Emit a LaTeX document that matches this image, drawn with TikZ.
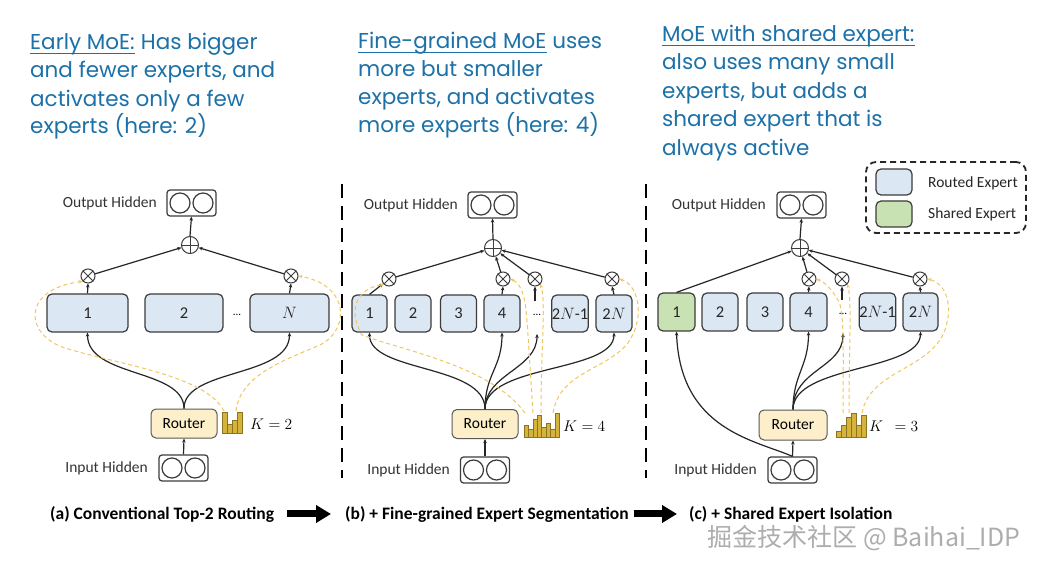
\RequirePackage{fix-cm}
\documentclass[tikz,border=0pt]{standalone}
\usepackage{fontspec}
\setmainfont{Carlito}
\newfontfamily\handfont{Poppins}
\newfontfamily\cjkfont{Noto Sans CJK SC}
\usetikzlibrary{arrows.meta}
\definecolor{hand}{HTML}{1C71A8}
\definecolor{expfill}{HTML}{DCE7F4}
\definecolor{shfill}{HTML}{C9E2B3}
\definecolor{rtfill}{HTML}{FCEFC9}
\definecolor{edge}{HTML}{3C3C3C}
\definecolor{ydash}{HTML}{F0C75E}
\definecolor{barf}{HTML}{D6B43C}
\definecolor{bard}{HTML}{8A7420}
\newcommand\hidden[3]{\node[hid] (#1) at (#2,#3) {};
  \draw[line width=1.2pt, draw=edge] (#1.center) ++(-11.5,0) circle[radius=10] (#1.center) ++(11.5,0) circle[radius=10];}
\newcommand\otim[3]{\node[xcirc] (#1) at (#2,#3) {};
  \draw[line width=0.9pt, draw=edge] (#1.45)--(#1.225) (#1.135)--(#1.315);}
\newcommand\oplu[3]{\node[pcirc] (#1) at (#2,#3) {};
  \draw[line width=0.9pt, draw=edge] (#1.north)--(#1.south) (#1.west)--(#1.east);}
\newcommand\barchart[4]{%
  \foreach \h [count=\i] in {#4} {\draw[fill=barf, draw=bard, line width=0.5pt] ({#1+(\i-1)*#3},#2) rectangle ++(#3,{-\h});}}
\newcommand\ulin[1]{\draw[hand, line width=1.6pt] ([yshift=-3.5pt]#1.base west) -- ([yshift=-3.5pt]#1.base east);}
\tikzset{
  exp/.style={draw=edge, line width=1.2pt, fill=expfill, rounded corners=5pt, minimum height=38pt, inner sep=0pt, text=black!85, font=\fontsize{16.5}{19}\selectfont},
  shexp/.style={exp, fill=shfill},
  router/.style={draw=gray!70!black, line width=1pt, fill=rtfill, rounded corners=5pt, minimum width=66pt, minimum height=29pt, inner sep=0pt, font=\fontsize{15.5}{18}\selectfont},
  hid/.style={draw=edge, line width=1.2pt, rounded corners=3pt, minimum width=49pt, minimum height=26pt, inner sep=0pt},
  lbl/.style={font=\fontsize{15.5}{18}\selectfont, text=black!80, anchor=base east, inner sep=0pt},
  dots/.style={font=\fontsize{11}{12}\selectfont, inner sep=0pt},
  kt/.style={font=\fontsize{15.5}{18}\selectfont, anchor=west, inner sep=0pt},
  xcirc/.style={circle, draw=edge, line width=1pt, minimum size=14pt, inner sep=0pt},
  pcirc/.style={circle, draw=edge, line width=1pt, minimum size=17pt, inner sep=0pt},
  arr/.style={line width=1.2pt, draw=black!85, -{Stealth[length=4pt,width=3.5pt]}},
  ydsh/.style={draw=ydash, line width=1pt, dash pattern=on 4pt off 3pt, -{Stealth[length=4pt,width=3.5pt]}},
  sep/.style={line width=2.2pt, dash pattern=on 14pt off 8pt},
  handtxt/.style={font=\handfont\fontsize{21.5}{26}\selectfont, text=hand, anchor=base west, inner sep=0pt},
  captxt/.style={font=\bfseries\fontsize{17.5}{20}\selectfont, anchor=base west, inner sep=0pt},
  bigarr/.style={line width=7pt, -{Triangle[length=15pt,width=17pt]}},
  legbox/.style={draw=black!85, line width=1.8pt, dash pattern=on 6pt off 4pt, rounded corners=10pt, minimum width=160pt, minimum height=71pt},
  legtxt/.style={font=\fontsize{15.5}{18}\selectfont, text=black!85, anchor=west, inner sep=0pt},
  wm/.style={font=\cjkfont\fontsize{25}{28}\selectfont, text=black!32, inner sep=0pt}
}
\begin{document}
\begin{tikzpicture}[x=1pt,y=-1pt]
\useasboundingbox (0,0) rectangle (1039,569);
\fill[white] (0,0) rectangle (1039,569);

% ---------- texts ----------
\node[handtxt] (ta1u) at (30,50) {Early MoE:};
\node[handtxt] (ta1) at (ta1u.base east) {\ Has bigger};
\ulin{ta1u}
\node[handtxt] (ta2) at (30,78) {and fewer experts, and};
\node[handtxt] (ta3) at (30,107) {activates only a few};
\node[handtxt] (ta4) at (30,134) {experts (here: 2)};

\node[handtxt] (tb1u) at (358,49) {Fine-grained MoE};
\node[handtxt] (tb1) at (tb1u.base east) {\ uses};
\ulin{tb1u}
\node[handtxt] (tb2) at (358,77) {more but smaller};
\node[handtxt] (tb3) at (358,105) {experts, and activates};
\node[handtxt] (tb4) at (358,133) {more experts (here: 4)};

\node[handtxt] (tc1) at (662,42) {MoE with shared expert:};
\ulin{tc1}
\node[handtxt] (tc2) at (662,70) {also uses many small};
\node[handtxt] (tc3) at (662,99) {experts, but adds a};
\node[handtxt] (tc4) at (662,127) {shared expert that is};
\node[handtxt] (tc5) at (662,156) {always active};

% ---------- separators ----------
\coordinate (s1t) at (342,184); \coordinate (s1b) at (342,478);
\coordinate (s2t) at (646,184); \coordinate (s2b) at (646,478);
\draw[sep] (s1t) -- (s1b);
\draw[sep] (s2t) -- (s2b);

% ---------- panel a ----------
\node[exp, minimum width=81pt] (ea1) at (87.5,313) {1};
\node[exp, minimum width=78pt] (ea2) at (184,313) {2};
\node[dots] (da) at (237,315) {...};
\node[exp, minimum width=79pt] (ean) at (289.5,313) {$N$};
\node[router] (ra) at (184,423.5) {Router};
\hidden{ia}{183.5}{468}
\node[lbl] (ila) at (148,472) {Input Hidden};
\hidden{oa}{191.5}{203}
\node[lbl] (ola) at (157,208) {Output Hidden};
\oplu{pa}{190}{245}
\otim{xa1}{88}{276}
\otim{xa2}{291}{276}
\barchart{222}{433}{5}{21,9,13,21}
\node[kt] (ka) at (250,424) {$K=2$};

\draw[arr] (ia.north) -- (ra.south);
\draw[arr] (ra.north) .. controls +(0,-40) and +(0,45) .. (ea1.south);
\draw[arr] (ra.north) .. controls +(0,-40) and +(0,45) .. (ean.south);
\draw[arr] (ea1.north) -- (xa1.south);
\draw[arr] (ean.north) -- (xa2.south);
\draw[arr] (xa1) -- (pa);
\draw[arr] (xa2) -- (pa);
\draw[arr] (pa.north) -- (oa.south);
\coordinate (ya1) at (224,411); \coordinate (ya2) at (236,411);
\draw[ydsh] (ya1) .. controls (205,375) and (120,365) .. (65,348) .. controls (25,335) and (20,290) .. (xa1.south west);
\draw[ydsh] (ya2) .. controls (240,375) and (285,360) .. (320,345) .. controls (350,330) and (350,285) .. (xa2.east);

% ---------- panel b ----------
\node[exp, minimum width=35pt, minimum height=37pt] (eb1) at (369.5,313.5) {1};
\node[exp, minimum width=36pt, minimum height=37pt] (eb2) at (413,313.5) {2};
\node[exp, minimum width=36pt, minimum height=37pt] (eb3) at (458.5,313.5) {3};
\node[exp, minimum width=36pt, minimum height=37pt] (eb4) at (502,313.5) {4};
\node[dots] (db) at (537,315) {...};
\node[exp, minimum width=36pt, minimum height=37pt] (eb5) at (570,313.5) {2$N$-1};
\node[exp, minimum width=36pt, minimum height=37pt] (eb6) at (614,313.5) {2$N$};
\node[router] (rb) at (485,424) {Router};
\hidden{ib}{485}{470}
\node[lbl] (ilb) at (450,474) {Input Hidden};
\hidden{ob}{492.5}{205}
\node[lbl] (olb) at (458,210) {Output Hidden};
\oplu{pb}{493}{248}
\otim{xb1}{389}{279}
\otim{xb4}{503}{279}
\otim{xbd}{535}{279}
\otim{xb6}{612}{279}
\barchart{524}{437}{4.4}{12,8,18,22,10,14,8,24}
\node[kt] (kb) at (563,426) {$K=4$};
\coordinate (dbb) at (537,334);
\coordinate (dbt) at (535,301);

\draw[arr] (ib.north) -- (rb.south);
\draw[arr] (rb.north) .. controls +(0,-45) and +(0,40) .. (eb1.south);
\draw[arr] (rb.north) .. controls +(0,-35) and +(0,35) .. (eb4.south);
\draw[arr] (rb.north) .. controls +(0,-35) and +(0,35) .. (dbb);
\draw[arr] (rb.north) .. controls +(0,-45) and +(0,40) .. (eb6.south);
\draw[arr] (eb1.north) -- (xb1);
\draw[arr] (eb4.north) -- (xb4.south);
\draw[arr] (dbt) -- (xbd.south);
\draw[arr] (eb6.north) -- (xb6.south);
\draw[arr] (xb1) -- (pb);
\draw[arr] (xb4) -- (pb);
\draw[arr] (xbd) -- (pb);
\draw[arr] (xb6) -- (pb);
\draw[arr] (pb.north) -- (ob.south);
\coordinate (yb1) at (525,413); \coordinate (yb2) at (533,413);
\coordinate (yb3) at (541,413); \coordinate (yb4) at (553,413);
\draw[ydsh] (yb1) .. controls (490,365) and (400,350) .. (362,335) .. controls (350,315) and (352,290) .. (xb1.south west);
\draw[ydsh] (yb2) .. controls (530,370) and (528,330) .. (526,310) .. controls (524,290) and (518,282) .. (xb4.east);
\draw[ydsh] (yb3) .. controls (541,350) and (546,300) .. (xbd.south east);
\draw[ydsh] (yb4) .. controls (560,370) and (610,370) .. (630,340) .. controls (645,315) and (638,285) .. (xb6.east);

% ---------- panel c ----------
\node[shexp, minimum width=37pt] (ec1) at (676.5,312) {1};
\node[exp, minimum width=36pt] (ec2) at (720,312) {2};
\node[exp, minimum width=36pt] (ec3) at (765,312) {3};
\node[exp, minimum width=37pt] (ec4) at (808.5,312) {4};
\node[dots] (dc) at (843,314) {...};
\node[exp, minimum width=35pt] (ec5) at (877.5,312) {2$N$-1};
\node[exp, minimum width=35pt] (ec6) at (920.5,312) {2$N$};
\node[router, minimum width=68pt, minimum height=30pt] (rc) at (793,425) {Router};
\hidden{ic}{792.5}{470}
\node[lbl] (ilc) at (757,474) {Input Hidden};
\hidden{oc}{801.5}{205}
\node[lbl] (olc) at (766,210) {Output Hidden};
\oplu{pc}{800}{248}
\otim{xc4}{809}{279}
\otim{xcd}{842}{279}
\otim{xc6}{920}{279}
\barchart{836}{437}{5}{6,12,20,24,12,22}
\node[kt] (kc) at (869,426) {$K\ \ =3$};
\coordinate (dcb) at (843,333);
\coordinate (dct) at (842,300);

\draw[arr] (ic.north) -- (rc.south);
\draw[arr] (ic.north) .. controls (755,440) and (680,430) .. (ec1.south);
\draw[arr] (rc.north) .. controls +(0,-35) and +(0,35) .. (ec4.south);
\draw[arr] (rc.north) .. controls +(0,-40) and +(0,35) .. (dcb);
\draw[arr] (rc.north) .. controls +(0,-45) and +(0,40) .. (ec6.south);
\draw[arr] (ec1.north) -- (pc);
\draw[arr] (ec4.north) -- (xc4.south);
\draw[arr] (dct) -- (xcd.south);
\draw[arr] (ec6.north) -- (xc6.south);
\draw[arr] (xc4) -- (pc);
\draw[arr] (xcd) -- (pc);
\draw[arr] (xc6) -- (pc);
\draw[arr] (pc.north) -- (oc.south);
\coordinate (yc1) at (843,413); \coordinate (yc2) at (849,413); \coordinate (yc3) at (862,413);
\draw[ydsh] (yc1) .. controls (843,360) and (845,310) .. (838,300) .. controls (832,290) and (826,283) .. (xc4.east);
\draw[ydsh] (yc2) .. controls (849,350) and (852,300) .. (xcd.south east);
\draw[ydsh] (yc3) .. controls (870,370) and (930,370) .. (945,330) .. controls (955,300) and (942,282) .. (xc6.east);

% ---------- legend ----------
\node[legbox] (leg) at (946,197.5) {};
\node[exp, minimum width=36pt, minimum height=26pt] (lr) at (894,182) {};
\node[shexp, minimum width=36pt, minimum height=26pt] (ls) at (894,214) {};
\node[legtxt] (lrt) at (928,183) {Routed Expert};
\node[legtxt] (lst) at (928,214) {Shared Expert};

% ---------- captions ----------
\node[captxt] (la) at (50,519) {(a) Conventional Top-2 Routing};
\node[captxt] (lb) at (345,519) {(b) + Fine-grained Expert Segmentation};
\node[captxt] (lc) at (689,519) {(c) + Shared Expert Isolation};
\draw[bigarr, shorten <=13pt, shorten >=14pt] (la.east) -- (la.east -| lb.west);
\draw[bigarr, shorten <=5pt, shorten >=12pt] (lb.east) -- (lb.east -| lc.west);

\node[wm] (wmk) at (864,538) {掘金技术社区 @ Baihai\_IDP};
\end{tikzpicture}
\end{document}
